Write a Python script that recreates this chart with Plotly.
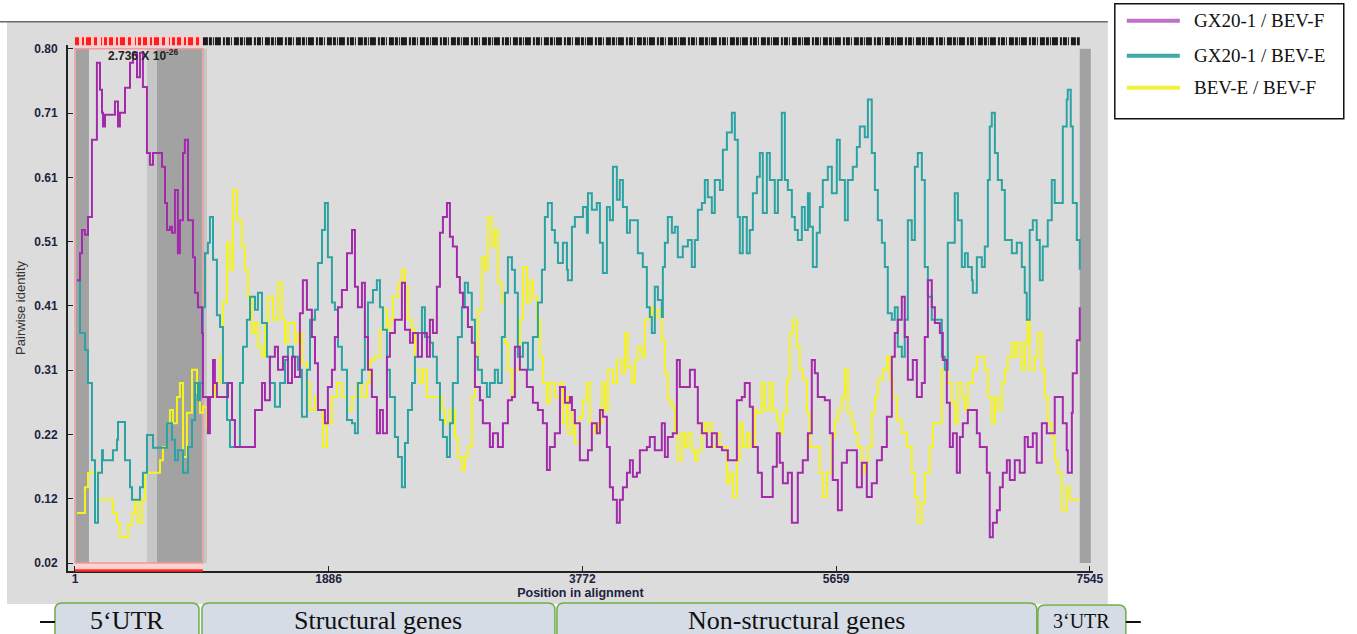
import plotly.graph_objects as go

# ---------------- data (alignment position, pairwise identity) ----------------
pos_gx_bevf = [16, 38, 53, 75, 98, 127, 164, 187, 202, 209, 224, 298, 321, 335, 373, 410, 432, 462, 484, 506,
               536, 558, 581, 648, 670, 685, 707, 722, 744, 766, 781, 804, 818, 841, 878, 893, 915, 945, 952, 989,
               1004, 1027, 1041, 1056, 1138, 1168, 1190, 1339, 1391, 1413, 1450, 1487, 1510, 1547, 1584, 1614, 1636,
               1673, 1695, 1725, 1762, 1785, 1807, 1859, 1881, 1911, 1933, 1956, 1985, 2023, 2060, 2082, 2104, 2134,
               2156, 2179, 2208, 2245, 2268, 2290, 2320, 2342, 2379, 2431, 2454, 2491, 2513, 2550, 2580, 2617, 2639,
               2662, 2691, 2714, 2736, 2766, 2788, 2810, 2840, 2862, 2885, 2922, 2951, 2974, 3011, 3033, 3085, 3108,
               3145, 3182, 3219, 3249, 3271, 3308, 3360, 3405, 3442, 3479, 3509, 3531, 3568, 3606, 3643, 3680, 3695,
               3717, 3754, 3814, 3843, 3880, 3903, 3925, 3955, 3977, 4000, 4029, 4051, 4074, 4104, 4126, 4148, 4178,
               4200, 4252, 4274, 4311, 4363, 4386, 4408, 4445, 4475, 4497, 4572, 4609, 4631, 4661, 4698, 4735, 4772,
               4810, 4854, 4921, 4958, 4980, 5017, 5040, 5077, 5107, 5188, 5218, 5240, 5263, 5300, 5330, 5374, 5411,
               5449, 5478, 5501, 5523, 5575, 5612, 5634, 5672, 5701, 5739, 5813, 5850, 5887, 5924, 5962, 5999, 6036,
               6073, 6095, 6117, 6147, 6169, 6192, 6229, 6259, 6296, 6318, 6341, 6370, 6393, 6430, 6452, 6482, 6504,
               6527, 6556, 6579, 6601, 6638, 6705, 6727, 6779, 6801, 6824, 6854, 6876, 6898, 6928, 6950, 6987, 7024,
               7061, 7084, 7121, 7150, 7188, 7225, 7284, 7344, 7373, 7381, 7411, 7418, 7448, 7470]
id_gx_bevf = [0.449, 0.490, 0.525, 0.518, 0.545, 0.662, 0.779, 0.738, 0.703, 0.682, 0.700, 0.720, 0.682, 0.703, 0.741,
              0.779, 0.794, 0.757, 0.794, 0.742, 0.642, 0.624, 0.642, 0.621, 0.566, 0.525, 0.530, 0.521, 0.586, 0.490,
              0.540, 0.642, 0.662, 0.540, 0.484, 0.430, 0.408, 0.369, 0.272, 0.217, 0.272, 0.328, 0.293, 0.272, 0.293,
              0.237, 0.196, 0.252, 0.293, 0.267, 0.333, 0.348, 0.313, 0.333, 0.293, 0.333, 0.302, 0.399, 0.449, 0.404,
              0.363, 0.323, 0.252, 0.232, 0.287, 0.313, 0.363, 0.408, 0.434, 0.490, 0.525, 0.439, 0.408, 0.445, 0.363,
              0.313, 0.272, 0.217, 0.252, 0.217, 0.333, 0.369, 0.389, 0.445, 0.374, 0.354, 0.369, 0.333, 0.369, 0.333,
              0.389, 0.369, 0.439, 0.521, 0.545, 0.566, 0.515, 0.500, 0.454, 0.430, 0.408, 0.378, 0.354, 0.287, 0.267,
              0.232, 0.196, 0.217, 0.196, 0.232, 0.267, 0.272, 0.348, 0.313, 0.287, 0.263, 0.252, 0.232, 0.161, 0.196,
              0.217, 0.287, 0.263, 0.272, 0.252, 0.232, 0.176, 0.191, 0.232, 0.217, 0.252, 0.242, 0.196, 0.135, 0.116,
              0.081, 0.116, 0.135, 0.157, 0.176, 0.151, 0.157, 0.191, 0.196, 0.211, 0.191, 0.232, 0.181, 0.211, 0.217,
              0.328, 0.287, 0.313, 0.287, 0.232, 0.217, 0.196, 0.217, 0.196, 0.191, 0.176, 0.267, 0.272, 0.293, 0.257,
              0.196, 0.157, 0.120, 0.166, 0.217, 0.172, 0.141, 0.157, 0.081, 0.157, 0.176, 0.217, 0.328, 0.308, 0.272,
              0.267, 0.217, 0.146, 0.100, 0.172, 0.191, 0.135, 0.172, 0.120, 0.141, 0.176, 0.196, 0.242, 0.333, 0.369,
              0.389, 0.424, 0.363, 0.298, 0.328, 0.272, 0.293, 0.363, 0.449, 0.408, 0.384, 0.369, 0.328, 0.263, 0.196,
              0.217, 0.157, 0.211, 0.232, 0.252, 0.217, 0.196, 0.157, 0.059, 0.081, 0.100, 0.135, 0.157, 0.176, 0.146,
              0.176, 0.157, 0.211, 0.196, 0.217, 0.172, 0.232, 0.217, 0.272, 0.232, 0.191, 0.157, 0.248, 0.308, 0.358,
              0.408]

pos_gx_beve = [16, 38, 75, 98, 127, 150, 172, 202, 209, 283, 313, 321, 373, 410, 425, 484, 506, 536, 581, 685, 722,
               744, 766, 804, 841, 871, 893, 915, 930, 952, 967, 989, 1004, 1027, 1056, 1079, 1101, 1131, 1153, 1227,
               1250, 1279, 1302, 1339, 1361, 1391, 1428, 1450, 1487, 1525, 1562, 1584, 1621, 1658, 1688, 1725, 1748,
               1785, 1807, 1837, 1859, 1881, 1911, 1933, 1956, 1985, 2023, 2060, 2082, 2104, 2134, 2156, 2179, 2216,
               2245, 2268, 2290, 2320, 2342, 2379, 2402, 2431, 2454, 2476, 2506, 2528, 2550, 2580, 2602, 2639, 2662,
               2691, 2714, 2736, 2766, 2788, 2810, 2847, 2877, 2899, 2922, 2951, 2974, 2996, 3026, 3063, 3085, 3122,
               3145, 3174, 3197, 3219, 3249, 3271, 3293, 3331, 3368, 3405, 3442, 3472, 3494, 3516, 3546, 3568, 3591,
               3628, 3658, 3665, 3695, 3717, 3777, 3806, 3814, 3843, 3880, 3903, 3925, 3955, 3977, 4000, 4029, 4051,
               4074, 4104, 4126, 4185, 4222, 4252, 4274, 4289, 4311, 4334, 4363, 4371, 4386, 4408, 4438, 4460, 4482,
               4519, 4557, 4586, 4609, 4631, 4661, 4683, 4705, 4735, 4757, 4795, 4817, 4847, 4884, 4906, 4928, 4943,
               4965, 4995, 5017, 5040, 5070, 5092, 5114, 5144, 5166, 5203, 5226, 5255, 5278, 5300, 5330, 5352, 5374,
               5404, 5426, 5449, 5463, 5486, 5515, 5538, 5560, 5597, 5627, 5664, 5686, 5724, 5746, 5783, 5813, 5835,
               5872, 5895, 5924, 5947, 5969, 5999, 6021, 6043, 6073, 6095, 6117, 6147, 6169, 6192, 6221, 6244, 6266,
               6296, 6318, 6341, 6370, 6445, 6467, 6489, 6541, 6564, 6593, 6616, 6638, 6668, 6675, 6705, 6742, 6764,
               6787, 6801, 6816, 6839, 6861, 6891, 6913, 6965, 7002, 7039, 7061, 7076, 7098, 7121, 7150, 7173, 7195,
               7232, 7262, 7284, 7344, 7373, 7381, 7403, 7418, 7448, 7470]
id_gx_beve = [0.449, 0.369, 0.343, 0.293, 0.176, 0.081, 0.157, 0.191, 0.176, 0.191, 0.207, 0.234, 0.176, 0.135, 0.116,
              0.135, 0.157, 0.214, 0.195, 0.232, 0.207, 0.176, 0.191, 0.157, 0.196, 0.237, 0.293, 0.267, 0.293, 0.408,
              0.490, 0.506, 0.545, 0.480, 0.396, 0.378, 0.293, 0.237, 0.196, 0.293, 0.348, 0.389, 0.424, 0.404, 0.430,
              0.384, 0.333, 0.293, 0.257, 0.293, 0.328, 0.348, 0.333, 0.313, 0.242, 0.313, 0.389, 0.404, 0.475, 0.525,
              0.566, 0.484, 0.415, 0.404, 0.348, 0.313, 0.237, 0.232, 0.217, 0.293, 0.313, 0.363, 0.415, 0.434, 0.449,
              0.408, 0.374, 0.313, 0.272, 0.211, 0.181, 0.135, 0.202, 0.252, 0.293, 0.333, 0.369, 0.408, 0.363, 0.354,
              0.333, 0.293, 0.237, 0.211, 0.181, 0.232, 0.293, 0.363, 0.408, 0.445, 0.430, 0.389, 0.333, 0.313, 0.293,
              0.272, 0.293, 0.313, 0.293, 0.363, 0.430, 0.484, 0.465, 0.430, 0.333, 0.354, 0.313, 0.363, 0.415, 0.465,
              0.545, 0.566, 0.525, 0.506, 0.475, 0.506, 0.465, 0.449, 0.530, 0.545, 0.560, 0.521, 0.581, 0.556, 0.566,
              0.506, 0.460, 0.560, 0.540, 0.621, 0.571, 0.601, 0.560, 0.521, 0.540, 0.490, 0.469, 0.408, 0.393, 0.369,
              0.439, 0.419, 0.393, 0.469, 0.506, 0.545, 0.521, 0.530, 0.484, 0.500, 0.510, 0.469, 0.510, 0.556, 0.566,
              0.601, 0.575, 0.551, 0.601, 0.586, 0.647, 0.673, 0.703, 0.662, 0.545, 0.490, 0.545, 0.490, 0.525, 0.581,
              0.606, 0.642, 0.551, 0.642, 0.601, 0.551, 0.601, 0.703, 0.601, 0.586, 0.545, 0.525, 0.510, 0.560, 0.525,
              0.581, 0.530, 0.469, 0.521, 0.560, 0.601, 0.621, 0.581, 0.662, 0.601, 0.540, 0.601, 0.621, 0.651, 0.682,
              0.666, 0.723, 0.642, 0.586, 0.540, 0.506, 0.469, 0.399, 0.389, 0.408, 0.348, 0.333, 0.389, 0.540, 0.510,
              0.621, 0.642, 0.601, 0.469, 0.424, 0.389, 0.333, 0.313, 0.506, 0.581, 0.540, 0.469, 0.490, 0.469, 0.449,
              0.430, 0.484, 0.469, 0.500, 0.601, 0.682, 0.703, 0.642, 0.601, 0.586, 0.510, 0.490, 0.506, 0.469, 0.430,
              0.389, 0.525, 0.540, 0.510, 0.449, 0.500, 0.540, 0.601, 0.566, 0.682, 0.723, 0.738, 0.682, 0.566, 0.510,
              0.465]

pos_beve_bevf = [16, 75, 98, 172, 283, 313, 335, 395, 425, 447, 469, 499, 521, 633, 655, 685, 707, 729, 759, 781,
                 804, 833, 871, 908, 930, 952, 982, 1004, 1041, 1079, 1101, 1131, 1153, 1175, 1205, 1242, 1264, 1287,
                 1316, 1339, 1361, 1391, 1413, 1435, 1473, 1510, 1539, 1562, 1584, 1636, 1658, 1688, 1725, 1748, 1785,
                 1807, 1844, 1874, 1911, 1948, 1985, 2023, 2060, 2097, 2134, 2171, 2193, 2231, 2268, 2290, 2320, 2342,
                 2364, 2402, 2431, 2454, 2476, 2506, 2528, 2565, 2587, 2617, 2729, 2751, 2788, 2825, 2847, 2877, 2899,
                 2922, 2951, 2974, 2996, 3026, 3048, 3070, 3100, 3122, 3145, 3174, 3197, 3219, 3249, 3271, 3308, 3331,
                 3360, 3383, 3405, 3435, 3457, 3479, 3509, 3531, 3568, 3606, 3628, 3658, 3665, 3695, 3717, 3754, 3777,
                 3806, 3829, 3866, 3888, 3918, 3940, 3962, 4000, 4029, 4066, 4089, 4111, 4141, 4163, 4185, 4215, 4237,
                 4289, 4311, 4334, 4363, 4386, 4408, 4438, 4460, 4482, 4512, 4534, 4557, 4586, 4609, 4631, 4661, 4683,
                 4705, 4735, 4772, 4795, 4847, 4869, 4891, 4921, 4943, 4965, 4995, 5017, 5055, 5070, 5107, 5129, 5166,
                 5188, 5218, 5240, 5263, 5292, 5315, 5337, 5367, 5389, 5411, 5441, 5463, 5538, 5560, 5590, 5627, 5649,
                 5672, 5701, 5724, 5746, 5776, 5798, 5820, 5850, 5872, 5895, 5924, 5947, 5969, 6006, 6036, 6058, 6080,
                 6110, 6147, 6184, 6221, 6244, 6266, 6296, 6318, 6355, 6378, 6445, 6489, 6519, 6541, 6564, 6593, 6616,
                 6638, 6675, 6705, 6764, 6787, 6816, 6839, 6861, 6891, 6913, 6935, 6965, 6987, 7009, 7039, 7061, 7084,
                 7098, 7136, 7158, 7188, 7210, 7232, 7262, 7284, 7307, 7336, 7373, 7396, 7470]
id_beve_bevf = [0.096, 0.135, 0.157, 0.116, 0.096, 0.081, 0.059, 0.078, 0.096, 0.116, 0.081, 0.116, 0.157, 0.176,
                0.196, 0.232, 0.252, 0.232, 0.272, 0.293, 0.181, 0.248, 0.313, 0.278, 0.248, 0.257, 0.222, 0.272,
                0.293, 0.333, 0.415, 0.506, 0.465, 0.586, 0.540, 0.500, 0.465, 0.424, 0.369, 0.384, 0.348, 0.333,
                0.384, 0.424, 0.389, 0.445, 0.389, 0.354, 0.384, 0.354, 0.369, 0.323, 0.293, 0.252, 0.272, 0.252,
                0.196, 0.232, 0.272, 0.293, 0.272, 0.252, 0.272, 0.293, 0.272, 0.293, 0.328, 0.333, 0.374, 0.404,
                0.374, 0.389, 0.424, 0.445, 0.465, 0.439, 0.389, 0.374, 0.313, 0.293, 0.313, 0.272, 0.252, 0.232,
                0.252, 0.211, 0.181, 0.161, 0.181, 0.196, 0.272, 0.333, 0.404, 0.484, 0.465, 0.545, 0.500, 0.525,
                0.445, 0.415, 0.354, 0.313, 0.272, 0.313, 0.389, 0.469, 0.415, 0.449, 0.424, 0.389, 0.333, 0.293,
                0.263, 0.293, 0.272, 0.293, 0.232, 0.272, 0.217, 0.252, 0.202, 0.242, 0.267, 0.293, 0.232, 0.217,
                0.232, 0.293, 0.252, 0.313, 0.293, 0.328, 0.308, 0.369, 0.317, 0.293, 0.328, 0.348, 0.333, 0.389,
                0.408, 0.393, 0.404, 0.358, 0.308, 0.267, 0.257, 0.217, 0.176, 0.217, 0.196, 0.217, 0.191, 0.176,
                0.191, 0.232, 0.217, 0.232, 0.196, 0.217, 0.196, 0.141, 0.157, 0.120, 0.176, 0.232, 0.196, 0.217,
                0.196, 0.252, 0.248, 0.293, 0.252, 0.293, 0.252, 0.237, 0.217, 0.248, 0.298, 0.369, 0.389, 0.348,
                0.313, 0.298, 0.248, 0.196, 0.157, 0.120, 0.157, 0.211, 0.237, 0.252, 0.272, 0.313, 0.248, 0.232,
                0.217, 0.196, 0.157, 0.172, 0.196, 0.248, 0.272, 0.298, 0.313, 0.333, 0.298, 0.272, 0.237, 0.217,
                0.196, 0.157, 0.120, 0.081, 0.111, 0.157, 0.196, 0.232, 0.313, 0.293, 0.263, 0.232, 0.293, 0.272,
                0.252, 0.293, 0.313, 0.333, 0.313, 0.272, 0.232, 0.272, 0.252, 0.293, 0.313, 0.333, 0.354, 0.333,
                0.354, 0.313, 0.354, 0.389, 0.313, 0.333, 0.369, 0.313, 0.272, 0.232, 0.211, 0.176, 0.157, 0.100,
                0.135, 0.116, 0.116]

series_names = ["GX20-1 / BEV-F", "GX20-1 / BEV-E", "BEV-E / BEV-F"]
x_ticks = [1, 1886, 3772, 5659, 7545]
y_tick_vals = [0.02, 0.1175, 0.215, 0.3125, 0.41, 0.5075, 0.605, 0.7025, 0.80]
y_tick_labels = ["0.02", "0.12", "0.22", "0.31", "0.41", "0.51", "0.61", "0.71", "0.80"]
significant_region = [1, 952]          # highlighted recombination region
dark_windows = [[8, 105], [610, 945], [7470, 7552]]
light_windows = [[536, 610], [945, 982]]
p_value_label = "2.736 X 10<sup>-26</sup>"
gene_regions = ["5‘UTR", "Structural genes", "Non-structural genes", "3‘UTR"]

# ---------------- layout helpers (pixels -> paper) ----------------
W, H = 1357, 634
SX, SY = 1.008, 1.005
def px(xp):
    return xp * SX / W
def py(yp):
    return (H - yp) * SY / H

line_colors = ["#a32aab", "#2ba3a3", "#f4f41c"]
legend_colors = ["#c070c8", "#3fa9a7", "#f2f23a"]

fig = go.Figure()
draw_order = [2, 1, 0]
xs = [pos_gx_bevf, pos_gx_beve, pos_beve_bevf]
ys = [id_gx_bevf, id_gx_beve, id_beve_bevf]
for i in draw_order:
    fig.add_trace(go.Scatter(x=xs[i], y=ys[i], mode="lines", name=series_names[i],
                             line=dict(color=line_colors[i], width=2, shape="hv"),
                             showlegend=False))

shapes = []
# outer gray panel
shapes.append(dict(type="rect", xref="paper", yref="paper", x0=px(7), x1=px(1108), y0=py(604), y1=py(22),
                   fillcolor="#dcdcdc", line=dict(width=0), layer="below"))
shapes.append(dict(type="line", xref="paper", yref="paper", x0=0, x1=px(1108), y0=py(22), y1=py(22),
                   line=dict(color="#6a6a6a", width=1.5)))
# shaded windows
for a, b in dark_windows:
    shapes.append(dict(type="rect", xref="x", yref="y", x0=a, x1=b, y0=0.02, y1=0.80,
                       fillcolor="#a2a2a2", line=dict(width=0), layer="below"))
for a, b in light_windows:
    shapes.append(dict(type="rect", xref="x", yref="y", x0=a, x1=b, y0=0.02, y1=0.80,
                       fillcolor="#c6c6c6", line=dict(width=0), layer="below"))
shapes.append(dict(type="rect", xref="x", yref="y", x0=significant_region[0], x1=significant_region[1],
                   y0=0.02, y1=0.80, fillcolor="rgba(0,0,0,0)", line=dict(color="#f09a9a", width=1.5),
                   layer="below"))
# bottom highlight under region
shapes.append(dict(type="rect", xref="x", yref="paper", x0=significant_region[0], x1=significant_region[1],
                   y0=py(570), y1=py(562), fillcolor="#ffd2d2", line=dict(width=0), layer="below"))
shapes.append(dict(type="line", xref="x", yref="paper", x0=significant_region[0], x1=significant_region[1],
                   y0=py(570.5), y1=py(570.5), line=dict(color="#ff2a2a", width=2.5)))
# top barcode of informative sites
shapes.append(dict(type="rect", xref="x", yref="paper", x0=significant_region[0], x1=significant_region[1],
                   y0=py(47), y1=py(36), fillcolor="#ffcccc", line=dict(width=0)))
shapes.append(dict(type="line", xref="x", yref="paper", x0=significant_region[0], x1=significant_region[1],
                   y0=py(41.5), y1=py(41.5),
                   line=dict(color="#ff1e1e", width=8, dash="4px,3px,2px,2px,5px,3px,3px,4px,1px,2px,3px,2px")))
shapes.append(dict(type="line", xref="x", yref="paper", x0=significant_region[1], x1=7470,
                   y0=py(41.5), y1=py(41.5),
                   line=dict(color="#1a1a1a", width=8,
                             dash="5px,1px,3px,1px,1px,1px,6px,2px,2px,1px,4px,1px,1px,2px")))
# gene boxes
def rounded_box(x0, x1, y0, y1, r):
    return (f"M {px(x0)} {py(y1)} L {px(x0)} {py(y0 + r)} Q {px(x0)} {py(y0)} {px(x0 + r)} {py(y0)} "
            f"L {px(x1 - r)} {py(y0)} Q {px(x1)} {py(y0)} {px(x1)} {py(y0 + r)} L {px(x1)} {py(y1)} Z")
box_px = [(55, 199, 603), (202, 555, 603), (557, 1037, 603), (1038, 1126, 605)]
for (x0, x1, y0) in box_px:
    shapes.append(dict(type="path", xref="paper", yref="paper", path=rounded_box(x0, x1, y0, 660, 7),
                       fillcolor="#d6dce5", line=dict(color="#70ad47", width=1.5)))
shapes.append(dict(type="line", xref="paper", yref="paper", x0=px(40), x1=px(55), y0=py(622), y1=py(622),
                   line=dict(color="#111111", width=2)))
shapes.append(dict(type="line", xref="paper", yref="paper", x0=px(1126), x1=px(1141), y0=py(622), y1=py(622),
                   line=dict(color="#111111", width=2)))
# legend box
shapes.append(dict(type="rect", xref="paper", yref="paper", x0=px(1115), x1=px(1344), y0=py(119), y1=py(4),
                   fillcolor="white", line=dict(color="#111111", width=1.5)))
legend_y = [21, 56, 88]
for i in range(3):
    shapes.append(dict(type="line", xref="paper", yref="paper", x0=px(1127), x1=px(1180),
                       y0=py(legend_y[i]), y1=py(legend_y[i]), line=dict(color=legend_colors[i], width=4)))

annotations = []
for i in range(3):
    annotations.append(dict(xref="paper", yref="paper", x=px(1192), y=py(legend_y[i]), text=series_names[i],
                            showarrow=False, xanchor="left", yanchor="middle",
                            font=dict(family="Liberation Serif", size=19, color="#111111")))
annotations.append(dict(xref="paper", yref="paper", x=px(106), y=py(55), text=p_value_label, showarrow=False,
                        xanchor="left", yanchor="middle",
                        font=dict(family="Liberation Sans", size=12, color="#222222", weight="bold")))
gene_centers = [127, 378, 797, 1082]
gene_sizes = [26, 26, 26, 20]
for name, cx, fs in zip(gene_regions, gene_centers, gene_sizes):
    annotations.append(dict(xref="paper", yref="paper", x=px(cx), y=py(621), text=name, showarrow=False,
                            xanchor="center", yanchor="middle",
                            font=dict(family="Liberation Serif", size=fs, color="#111111")))

tick_font = dict(family="Liberation Sans", size=12, color="#1c2240", weight="bold")
fig.update_layout(
    width=W, height=H, autosize=False,
    margin=dict(l=0, r=0, t=0, b=0, pad=0),
    paper_bgcolor="white",
    plot_bgcolor="#dcdcdc",
    showlegend=False,
    shapes=shapes,
    annotations=annotations,
    xaxis=dict(domain=[px(68), px(1093)], range=[-51, 7567], tickvals=x_ticks,
               ticktext=[str(v) for v in x_ticks], ticks="inside", ticklen=5, tickcolor="#222222",
               showline=True, linecolor="#222222", linewidth=1.5, showgrid=False, zeroline=False,
               tickfont=tick_font, ticklabelstandoff=-4,
               title=dict(text="Position in alignment", standoff=0,
                          font=dict(family="Liberation Sans", size=12.5, color="#1c2240", weight="bold"))),
    yaxis=dict(domain=[py(571), py(45)], range=[0.0079, 0.806], tickvals=y_tick_vals, ticktext=y_tick_labels,
               ticks="inside", ticklen=5, tickcolor="#222222", showline=True, linecolor="#222222", linewidth=2,
               showgrid=False, zeroline=False, tickfont=tick_font, ticklabelstandoff=6,
               title=dict(text="Pairwise identity", standoff=6,
                          font=dict(family="Liberation Sans", size=13, color="#333333"))),
)

fig.write_html(
    "out.html",
    config={"displayModeBar": False, "responsive": False},
    post_script=("document.documentElement.style.overflow='hidden';"
                 "document.body.style.margin='0px';document.body.style.overflow='hidden';"
                 "var gd=document.getElementById('{plot_id}');"
                 "Plotly.relayout(gd,{width:1357,height:634});"),
)
